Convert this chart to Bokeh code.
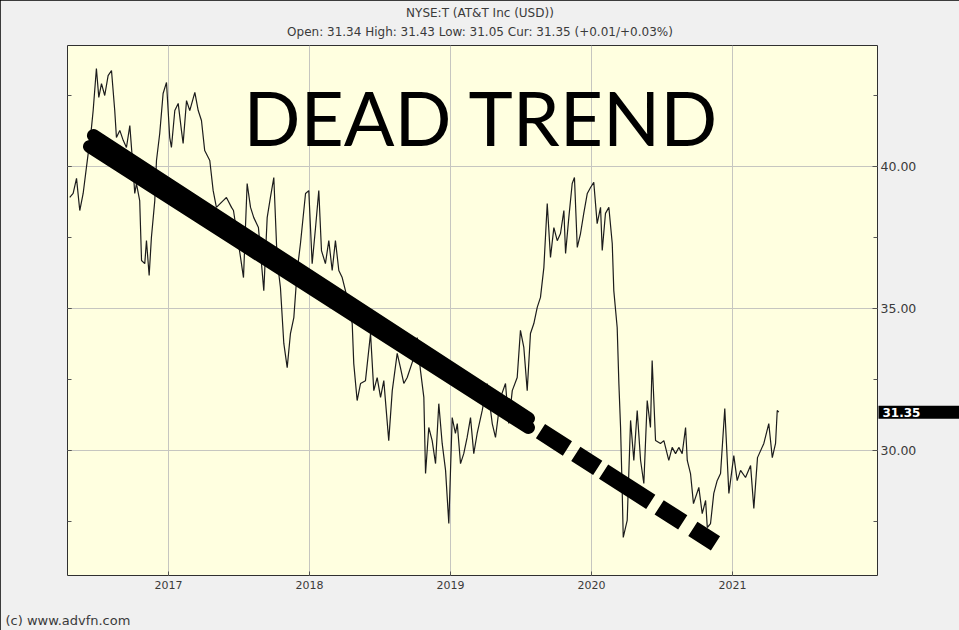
from bokeh.plotting import figure
from bokeh.models import (Label, LinearAxis, FixedTicker, SingleIntervalTicker,
                          NumeralTickFormatter, Range1d, CustomJSTickFormatter)
from bokeh.embed import file_html
from bokeh.resources import INLINE

# ---- data (decimal year, close price in USD) ----
years = [2016.300, 2016.324, 2016.348, 2016.371, 2016.395, 2016.418, 2016.454, 2016.466, 2016.489, 2016.506,
         2016.525, 2016.548, 2016.572, 2016.596, 2016.619, 2016.631, 2016.655, 2016.679, 2016.702, 2016.726,
         2016.750, 2016.761, 2016.773, 2016.796, 2016.809, 2016.832, 2016.844, 2016.863, 2016.879, 2016.903,
         2016.915, 2016.938, 2016.962, 2016.986, 2017.009, 2017.021, 2017.045, 2017.069, 2017.092, 2017.104,
         2017.128, 2017.151, 2017.187, 2017.211, 2017.234, 2017.257, 2017.293, 2017.317, 2017.340, 2017.388,
         2017.411, 2017.447, 2017.461, 2017.511, 2017.532, 2017.558, 2017.582, 2017.605, 2017.638, 2017.676,
         2017.700, 2017.723, 2017.747, 2017.771, 2017.794, 2017.818, 2017.842, 2017.865, 2017.889, 2017.913,
         2017.936, 2017.972, 2017.995, 2018.019, 2018.043, 2018.066, 2018.085, 2018.113, 2018.137, 2018.161,
         2018.184, 2018.208, 2018.232, 2018.255, 2018.303, 2018.314, 2018.338, 2018.362, 2018.397, 2018.433,
         2018.456, 2018.480, 2018.504, 2018.527, 2018.562, 2018.587, 2018.622, 2018.645, 2018.669, 2018.693,
         2018.740, 2018.764, 2018.787, 2018.811, 2018.823, 2018.846, 2018.870, 2018.894, 2018.917, 2018.941,
         2018.965, 2018.988, 2019.012, 2019.035, 2019.048, 2019.071, 2019.094, 2019.118, 2019.142, 2019.165,
         2019.189, 2019.225, 2019.260, 2019.296, 2019.319, 2019.355, 2019.390, 2019.413, 2019.438, 2019.473,
         2019.496, 2019.520, 2019.544, 2019.567, 2019.591, 2019.615, 2019.638, 2019.662, 2019.686, 2019.709,
         2019.733, 2019.757, 2019.780, 2019.804, 2019.816, 2019.839, 2019.863, 2019.879, 2019.899, 2019.922,
         2019.945, 2019.970, 2019.993, 2020.016, 2020.040, 2020.064, 2020.076, 2020.099, 2020.123, 2020.147,
         2020.158, 2020.182, 2020.194, 2020.206, 2020.218, 2020.225, 2020.253, 2020.277, 2020.300, 2020.324,
         2020.348, 2020.371, 2020.395, 2020.418, 2020.430, 2020.454, 2020.489, 2020.513, 2020.548, 2020.572,
         2020.596, 2020.619, 2020.643, 2020.667, 2020.679, 2020.702, 2020.723, 2020.761, 2020.785, 2020.809,
         2020.821, 2020.844, 2020.867, 2020.891, 2020.915, 2020.945, 2020.974, 2021.009, 2021.033, 2021.057,
         2021.092, 2021.128, 2021.151, 2021.177, 2021.222, 2021.257, 2021.282, 2021.305, 2021.317, 2021.328]

close = [38.91, 39.05, 39.58, 38.45, 39.05, 39.96, 41.37, 41.97, 43.45, 42.43,
         42.92, 42.50, 43.20, 43.38, 41.97, 41.02, 41.27, 40.92, 40.67, 41.44,
         39.86, 39.05, 39.40, 38.80, 36.69, 36.58, 37.39, 36.16, 37.50, 38.80,
         40.21, 41.16, 42.57, 42.96, 41.02, 40.67, 41.97, 42.22, 41.27, 40.81,
         42.32, 41.97, 42.61, 41.97, 41.62, 40.56, 40.21, 39.15, 38.56, 38.80,
         38.91, 38.56, 38.45, 36.80, 36.09, 39.40, 38.56, 38.20, 37.85, 35.63,
         38.20, 38.91, 39.61, 36.69, 35.74, 33.77, 32.92, 34.12, 34.68, 36.34,
         37.29, 39.05, 39.15, 36.58, 37.85, 39.15, 37.04, 36.58, 37.39, 36.34,
         37.39, 36.34, 36.09, 35.63, 34.47, 33.06, 31.76, 32.36, 32.46, 34.12,
         32.11, 32.57, 31.87, 32.46, 30.35, 32.11, 33.42, 32.92, 32.36, 32.57,
         33.27, 33.98, 32.82, 31.87, 29.19, 30.81, 30.35, 29.54, 31.65, 30.25,
         29.30, 27.43, 31.16, 30.60, 30.95, 29.54, 29.89, 30.46, 31.16, 29.89,
         30.60, 31.41, 32.36, 30.95, 30.46, 31.87, 32.36, 30.95, 32.11, 32.57,
         34.23, 33.63, 32.11, 34.12, 34.47, 35.04, 35.39, 36.44, 38.70, 36.80,
         37.85, 37.39, 37.64, 38.45, 36.94, 38.20, 39.40, 39.61, 37.15, 37.64,
         38.35, 39.05, 39.26, 39.44, 37.99, 38.56, 37.04, 38.35, 38.56, 37.29,
         35.63, 34.33, 32.36, 30.81, 28.49, 26.94, 27.54, 31.06, 29.65, 31.41,
         29.65, 28.84, 31.76, 30.81, 33.17, 30.35, 30.25, 30.35, 29.65, 30.11,
         29.89, 30.11, 29.89, 30.81, 29.65, 29.19, 28.13, 28.70, 27.78, 28.24,
         27.29, 27.43, 28.49, 28.94, 29.19, 31.48, 28.49, 29.82, 28.94, 29.30,
         29.05, 29.47, 27.96, 29.75, 30.25, 30.95, 29.75, 30.25, 31.41, 31.35]

# hand-drawn trend annotation (decimal year, price)
trend_upper_t = [2016.468, 2019.553]
trend_upper_p = [41.09, 31.13]
trend_lower_t = [2016.440, 2019.553]
trend_lower_p = [40.70, 30.81]
trend_dash_t = [2019.638, 2020.879]
trend_dash_p = [30.68, 26.73]

year_ticks = [2017, 2018, 2019, 2020, 2021]
last_price = 31.35
last_price_label = "31.35"
title_line1 = "NYSE:T (AT&T Inc (USD))"
title_line2 = "Open: 31.34 High: 31.43 Low: 31.05 Cur: 31.35 (+0.01/+0.03%)"
headline = "DEAD TREND"
credit = "(c) www.advfn.com"

FONT = "DejaVu Sans"
TXT = "#3a3a3a"
X0, X1 = 2016.284, 2022.028
Y0, Y1 = 25.60, 44.26
XMID = 2019.209          # horizontal centre of the whole picture, in axis units

p = figure(title=None, frame_width=810, frame_height=530,
           min_border_left=67, min_border_right=82, min_border_top=45, min_border_bottom=55,
           x_range=Range1d(X0, X1), y_range=Range1d(Y0, Y1),
           y_axis_location="right", output_backend="svg", toolbar_location=None,
           background_fill_color="#ffffe0", border_fill_color="#f0f0f0",
           outline_line_color="#303030", outline_line_width=1)
p.styles = {"outline": "2px solid black", "outline-offset": "-2px"}

# bottom axis
p.xaxis.ticker = FixedTicker(ticks=year_ticks)
p.xaxis.axis_line_color = None
p.xaxis.major_tick_in = 4
p.xaxis.major_tick_out = 0
p.xaxis.major_tick_line_color = "#555555"
p.xaxis.major_label_standoff = 5
p.xaxis.major_label_text_font = FONT
p.xaxis.major_label_text_font_size = "11px"
p.xaxis.major_label_text_color = TXT

# right axis
p.yaxis.ticker = SingleIntervalTicker(interval=5, num_minor_ticks=2)
p.yaxis.formatter = NumeralTickFormatter(format="0.00")
p.yaxis.axis_line_color = None
p.yaxis.major_tick_in = 5
p.yaxis.major_tick_out = 0
p.yaxis.minor_tick_in = 4
p.yaxis.minor_tick_out = 0
p.yaxis.major_tick_line_color = "#555555"
p.yaxis.minor_tick_line_color = "#555555"
p.yaxis.major_label_standoff = 3
p.yaxis.major_label_text_font = FONT
p.yaxis.major_label_text_font_size = "12.5px"
p.yaxis.major_label_text_color = TXT

# left axis: ticks only
left = LinearAxis(ticker=SingleIntervalTicker(interval=5, num_minor_ticks=2),
                  formatter=CustomJSTickFormatter(code="return ''"),
                  axis_line_color=None, major_tick_in=4, major_tick_out=0,
                  minor_tick_in=4, minor_tick_out=0,
                  major_tick_line_color="#555555", minor_tick_line_color="#555555")
p.add_layout(left, "left")

p.xgrid.grid_line_color = "#c6c6c0"
p.ygrid.grid_line_color = "#c6c6c0"

# price series
p.line(years, close, line_color="#1c1c1c", line_width=1.2)

# trend annotation
p.line(trend_upper_t, trend_upper_p, line_color="black", line_width=13, line_cap="round")
p.line(trend_lower_t, trend_lower_p, line_color="black", line_width=13, line_cap="round")
p.line(trend_dash_t, trend_dash_p, line_color="black", line_width=17, line_cap="butt",
       line_dash="32 10 26 7 56 10 28 12 27 100")

# headline inside the plot
p.add_layout(Label(x=414, y=459, x_units="screen", y_units="screen", text=headline,
                   text_align="center", text_baseline="alphabetic", text_font="Lato",
                   text_font_size="75px", text_color="black"))

# two title lines above the frame
p.add_layout(Label(x=XMID, y=45.42, text=title_line1, text_align="center",
                   text_baseline="middle", text_font=FONT, text_font_size="12px",
                   text_color=TXT), "above")
p.add_layout(Label(x=XMID, y=44.75, text=title_line2, text_align="center",
                   text_baseline="middle", text_font=FONT, text_font_size="12px",
                   text_color=TXT), "above")

# credit below the axis
p.add_layout(Label(x=X0, y=24.01, x_offset=-62, text=credit,
                   text_align="left", text_baseline="middle", text_font=FONT,
                   text_font_size="13px", text_color=TXT), "below")

# last price tag on the right axis
p.add_layout(Label(x=X1, y=last_price, x_offset=1, text=last_price_label,
                   text_align="left", text_baseline="middle", text_font=FONT,
                   text_font_size="12px", text_font_style="bold", text_color="white",
                   background_fill_color="black",
                   padding=dict(left=4, right=42, top=2, bottom=2)), "right")

open("out.html", "w").write(file_html(p, INLINE))
